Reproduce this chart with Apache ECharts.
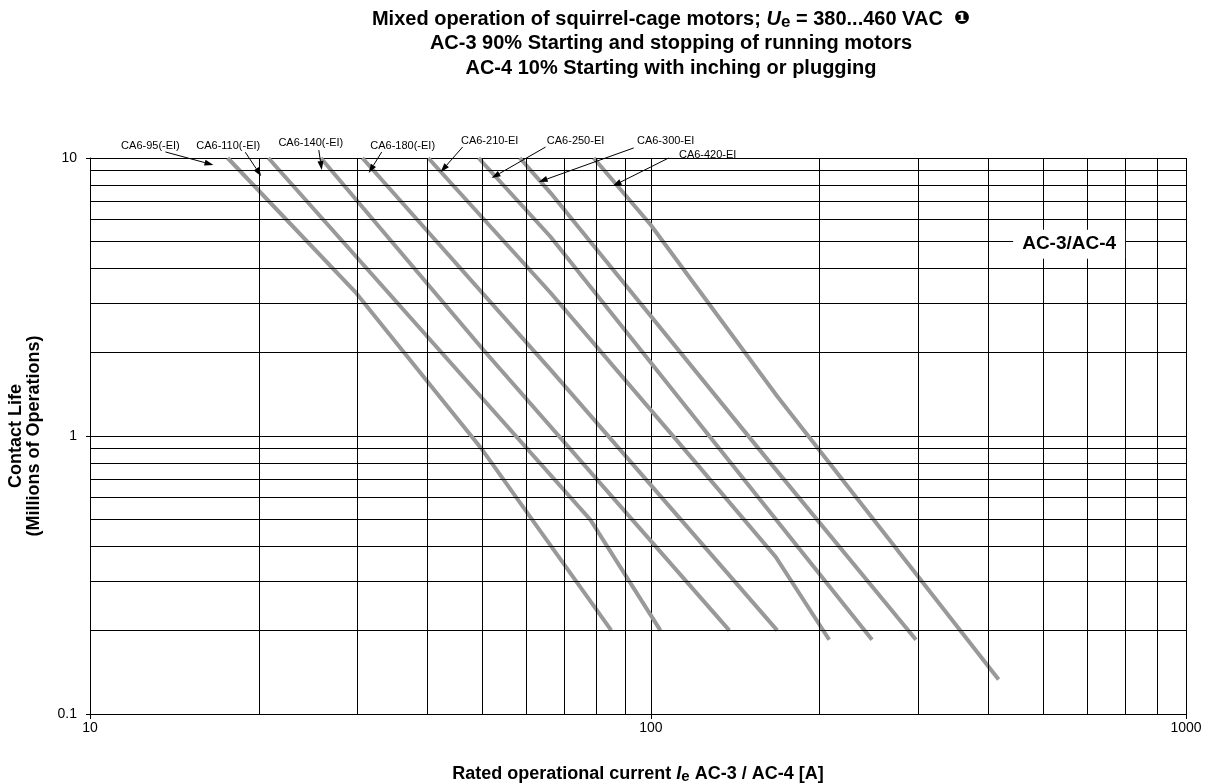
<!DOCTYPE html>
<html><head><meta charset="utf-8">
<script src="https://cdn.jsdelivr.net/npm/echarts@6/dist/echarts.min.js"></script>
<style>html,body{margin:0;padding:0;background:#fff}#c{width:1226px;height:783px}</style>
</head><body><div id="c"></div>
<script>
// ---- data ----
const curveNames = ['CA6-95(-EI)','CA6-110(-EI)','CA6-140(-EI)','CA6-180(-EI)','CA6-210-EI','CA6-250-EI','CA6-300-EI','CA6-420-EI'];
const ca6_95  = [[17.6,10],[29.7,3.3],[49.7,0.91],[85,0.2]];
const ca6_110 = [[20.8,10],[78,0.5],[104,0.2]];
const ca6_140 = [[25.8,10],[50.3,2.04],[138,0.2]];
const ca6_180 = [[30.6,10],[66.3,1.73],[168,0.2]];
const ca6_210 = [[40.1,10],[66.3,3.27],[114,0.91],[167,0.367],[208,0.185]];
const ca6_250 = [[49.3,10],[66.3,5.2],[132,0.91],[248,0.185]];
const ca6_300 = [[58.4,10],[66.3,7.48],[155,0.91],[297,0.185]];
const ca6_420 = [[79.1,10],[100,5.74],[168,1.39],[417,0.133]];
const curves = [ca6_95, ca6_110, ca6_140, ca6_180, ca6_210, ca6_250, ca6_300, ca6_420];
// arrow tips (data coords) for curve labels
const arrowTips = [[16.6,9.44],[20.2,8.6],[25.9,9.05],[31.4,8.83],[42.2,8.91],[52.0,8.47],[63.1,8.2],[85.5,7.93]];
// label centre offsets from tip, and arrow start offsets from label centre (px, layout only)
const labelOffsets = [[-63,-19],[-33,-30],[-11,-27],[34,-27],[49,-31],[84,-37],[127,-41],[95,-31]];
const arrowStarts  = [[15,6],[17,6],[8,7],[-21,6],[-27,6],[-30,6],[-32,7],[-39,3]];
const xMinorGrid = [20,30,40,50,60,70,80,90,200,300,400,500,600,700,800];
const yMinorGrid = [0.2,0.3,0.4,0.5,0.6,0.7,0.8,0.9,2,3,4,5,6,7,8,9];
const xTickLabels = ['10','100','1000'];
const yTickLabels = ['0.1','1','10'];
const regimeLabel = 'AC-3/AC-4';
const regimePos = [557,4.9];

const FONT = '"Liberation Sans", Arial, Helvetica, sans-serif';
const chart = echarts.init(document.getElementById('c'), null, {renderer:'canvas'});

const series = [{
  type:'line', data:[], z:1, silent:true,
  markLine:{
    silent:true, symbol:['none','none'], animation:false,
    label:{show:false},
    lineStyle:{color:'#000', width:1, type:'solid'},
    data: xMinorGrid.map(v=>({xAxis:v})).concat(yMinorGrid.map(v=>({yAxis:v})))
  }
}];
curves.forEach((d,i)=>{
  series.push({
    name: curveNames[i], type:'line', data:d, z:3, showSymbol:false, symbol:'none',
    lineStyle:{color:'#999999', width:4, cap:'butt', join:'miter'}, silent:true
  });
});
series.push({
  type:'scatter', data:[], z:5,
  markPoint:{
    symbol:'rect', symbolSize:0, silent:true,
    data:[{coord:regimePos, value:regimeLabel}],
    label:{show:true, position:'inside', formatter:regimeLabel, color:'#000', fontFamily:FONT, fontWeight:'bold', fontSize:19, backgroundColor:'#fff', padding:[5,9,5,9]}
  }
});

chart.setOption({
  animation:false,
  backgroundColor:'#fff',
  title:{
    left:666, top:2, textAlign:'center',
    text:'{b|Mixed operation of squirrel-cage motors; }{bi|U}{sub|e}{b| = 380...460 VAC  }{c|\u2776}\n{b|AC-3 90% Starting and stopping of running motors}\n{b|AC-4 10% Starting with inching or plugging}',
    textStyle:{
      fontFamily:FONT, fontSize:20, fontWeight:'bold', color:'#000', lineHeight:24.5,
      rich:{
        b:{fontFamily:FONT, fontSize:20, fontWeight:'bold', color:'#000', lineHeight:24.5},
        bi:{fontFamily:FONT, fontSize:20, fontWeight:'bold', fontStyle:'italic', color:'#000', lineHeight:24.5},
        sub:{fontFamily:FONT, fontSize:17, fontWeight:'bold', color:'#000', padding:[6,0,0,0], lineHeight:24.5},
        c:{fontFamily:'DejaVu Sans', fontSize:19, color:'#000', lineHeight:24.5}
      }
    }
  },
  grid:{left:90, right:40, top:158, bottom:69, containLabel:false, outerBoundsMode:'none'},
  xAxis:{
    type:'log', logBase:10, min:10, max:900,
    name:'Rated operational current {i|I}{s|e} AC-3 / AC-4 [A]',
    nameLocation:'middle', nameGap:50,
    nameTextStyle:{fontFamily:FONT, fontSize:18, fontWeight:'bold', color:'#000',
      rich:{i:{fontFamily:FONT, fontSize:18, fontWeight:'bold', fontStyle:'italic', color:'#000'},
            s:{fontFamily:FONT, fontSize:15, fontWeight:'bold', color:'#000', padding:[5,0,0,0]}}},
    axisLine:{show:true, lineStyle:{color:'#000', width:1}},
    axisTick:{show:true, length:5, lineStyle:{color:'#000'}},
    axisLabel:{show:true, margin:7, fontFamily:FONT, fontSize:14, color:'#000',
      formatter:(v,i)=>xTickLabels[i] ?? ''},
    splitLine:{show:true, lineStyle:{color:'#000', width:1}},
    minorTick:{show:false}, minorSplitLine:{show:false}
  },
  yAxis:{
    type:'log', logBase:10, min:0.1, max:10,
    name:'Contact Life\n(Millions of Operations)',
    nameLocation:'middle', nameGap:47, nameRotate:90,
    nameTextStyle:{fontFamily:FONT, fontSize:18, fontWeight:'bold', color:'#000', lineHeight:18},
    axisLine:{show:true, lineStyle:{color:'#000', width:1}},
    axisTick:{show:true, length:4, lineStyle:{color:'#000'}},
    axisLabel:{show:true, margin:13, fontFamily:FONT, fontSize:14, color:'#000',
      formatter:(v,i)=>yTickLabels[i] ?? ''},
    splitLine:{show:true, lineStyle:{color:'#000', width:1}}
  },
  series: series
});

// annotation arrows computed from data positions
const graphics = [];
arrowTips.forEach((t,i)=>{
  const p = chart.convertToPixel({gridIndex:0}, t);
  const lx = p[0] + labelOffsets[i][0], ly = p[1] + labelOffsets[i][1];
  const sx = lx + arrowStarts[i][0], sy = ly + arrowStarts[i][1];
  const dx = p[0]-sx, dy = p[1]-sy, L = Math.hypot(dx,dy);
  const ux = dx/L, uy = dy/L;
  const hl = 9, hw = 3;
  const bx = p[0]-ux*hl, by = p[1]-uy*hl;
  graphics.push({type:'line', silent:true, z:10, shape:{x1:sx,y1:sy,x2:bx,y2:by}, style:{stroke:'#000', lineWidth:1}});
  graphics.push({type:'polygon', silent:true, z:10, shape:{points:[[p[0],p[1]],[bx-uy*hw,by+ux*hw],[bx+uy*hw,by-ux*hw]]}, style:{fill:'#000'}});
  graphics.push({type:'text', silent:true, z:10, x:lx, y:ly, style:{text:curveNames[i], font:'11px '+FONT, fill:'#000', textAlign:'center', textVerticalAlign:'middle'}});
});
chart.setOption({graphic:graphics});
</script></body></html>
